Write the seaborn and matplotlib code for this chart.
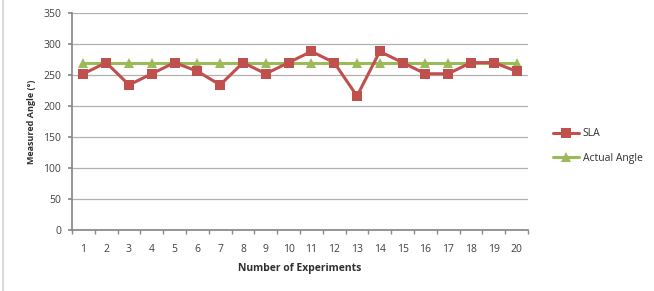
"""Measured angle per experiment: SLA vs actual angle."""
import numpy as np
import matplotlib
matplotlib.use("Agg")
import matplotlib.pyplot as plt
from matplotlib.lines import Line2D
from matplotlib.patches import Rectangle
import seaborn as sns

experiments = list(range(1, 21))
sla = [252, 270, 234, 252, 270, 256, 234, 270, 252, 270,
       288, 270, 216, 288, 270, 252, 252, 270, 270, 256]
actual = [270] * 20

RED = "#C0504D"
GREEN = "#9BBB59"

sns.set_theme(style="white")
plt.rcParams["font.family"] = ["Open Sans", "DejaVu Sans"]

fig = plt.figure(figsize=(6.54, 2.91), dpi=100)
ax = fig.add_axes([72 / 654, 1 - 230 / 291, 456 / 654, 217 / 291])

sns.lineplot(x=experiments, y=actual, color=GREEN, marker="^", markersize=6.5,
             linewidth=2.2, markeredgewidth=0, ax=ax, zorder=3)
sns.lineplot(x=experiments, y=sla, color=RED, marker="s", markersize=6.5,
             linewidth=2.2, markeredgewidth=0, ax=ax, zorder=4)

ax.set_xlim(0.5, 20.5)
ax.set_ylim(0, 350)
ax.set_yticks(range(0, 351, 50))
ax.set_xticks(experiments)
ax.set_xticks(np.arange(0.5, 21, 1), minor=True)
ax.tick_params(axis="x", which="major", length=0, labelsize=7.5, pad=10, labelcolor="#404040")
ax.tick_params(axis="x", which="minor", length=3, color="#888888", bottom=True)
ax.tick_params(axis="y", which="major", length=3, labelsize=7.5, color="#888888",
               labelcolor="#404040", left=True, pad=5)
ax.grid(axis="y", color="#b0b0b0", linewidth=0.9)
ax.set_axisbelow(True)
for side in ["top", "right"]:
    ax.spines[side].set_visible(False)
ax.spines["left"].set_color("#888888")
ax.spines["bottom"].set_color("#888888")

ax.set_xlabel("Number of Experiments", fontsize=7.5, fontweight="bold", color="#303030", labelpad=6)
ax.set_ylabel("Measured Angle (°)", fontsize=6.5, fontweight="bold", color="#303030", labelpad=5)

handles = [Line2D([], [], color=RED, marker="s", markersize=6.5, linewidth=2.2, markeredgewidth=0),
           Line2D([], [], color=GREEN, marker="^", markersize=6.5, linewidth=2.2, markeredgewidth=0)]
fig.legend(handles, ["SLA", "Actual Angle"], loc="center left",
           bbox_to_anchor=(544 / 654, 1 - 146 / 291), frameon=False, fontsize=7.5,
           handlelength=2.5, handletextpad=0.3, labelspacing=1.3, labelcolor="#303030")

fig.add_artist(Rectangle((3 / 654, -0.1), 1.2, 1.2, transform=fig.transFigure,
                         fill=False, edgecolor="#dadada", linewidth=1.5))

fig.savefig("out.png", dpi=100)
